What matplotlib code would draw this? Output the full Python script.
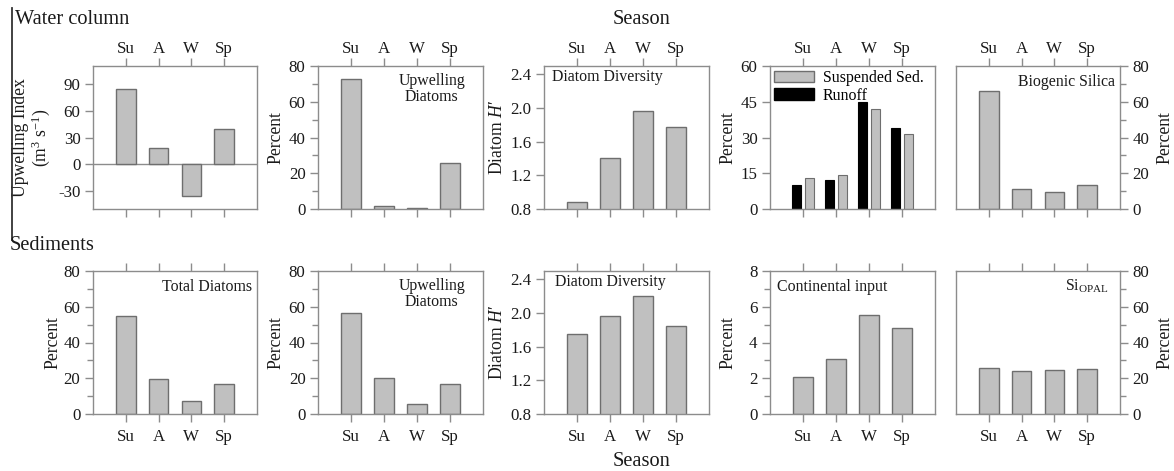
import numpy as np
import matplotlib
matplotlib.use("Agg")
import matplotlib.pyplot as plt
from matplotlib.lines import Line2D
from matplotlib.patches import Patch
from matplotlib.ticker import MultipleLocator

# Datos -------------------------------------------------------------------------------------------------------
seasons = ["Su", "A", "W", "Sp"]

# columna de agua
upwelling_index = [84, 18, -36, 40]
wc_upwelling_diatoms = [73, 1.5, 0.5, 25.5]
wc_diversity = [0.88, 1.41, 1.96, 1.78]
runoff = [10, 12, 45, 34]
suspended_sed = [13, 14.4, 42, 31.5]
biogenic_silica = [66, 11, 9.5, 13.4]

# sedimentos
total_diatoms = [55, 19.8, 7.4, 17]
sed_upwelling_diatoms = [56.3, 20.3, 5.8, 17]
sed_diversity = [1.75, 1.97, 2.20, 1.85]
continental_input = [2.05, 3.08, 5.52, 4.81]
si_opal = [25.9, 24.1, 24.8, 25]

# Estilo ------------------------------------------------------------------------------------------------------
plt.rcParams["font.family"] = ["Liberation Serif", "DejaVu Serif"]
plt.rcParams["mathtext.fontset"] = "custom"
plt.rcParams["mathtext.rm"] = "Liberation Serif"
plt.rcParams["mathtext.it"] = "Liberation Serif:italic"
plt.rcParams["axes.unicode_minus"] = False
FS_TICK = 12.2
FS_LAB = 12.7
FS_NOTE = 11.4
FS_TITLE = 14.7
BAR = "#c0c0c0"
EDGE = "#6e6e6e"
SPINE = "#8c8c8c"
TXT = "#1a1a1a"

W, H = 1174, 471
fig = plt.figure(figsize=(W / 100, H / 100), dpi=100)

lefts = [93, 318, 544, 770, 956]
widths = [164, 165, 165, 165, 164]
tops = [66, 271]
ph = 143
# borde del rotulo del eje y (fraccion del eje)
label_x = [-0.25, -0.206, -0.23, -0.206, 1.225]


def make_ax(row, col):
    l = lefts[col] / W
    b = 1 - (tops[row] + ph) / H
    ax = fig.add_axes([l, b, widths[col] / W, ph / H])
    for s in ax.spines.values():
        s.set_color(SPINE)
        s.set_linewidth(1.0)
    ax.set_xlim(-1, 4)
    ax.set_xticks(range(4))
    ax.set_xticklabels(seasons)
    ax.tick_params(axis="both", which="both", direction="out", color=SPINE,
                   labelsize=FS_TICK, labelcolor=TXT, pad=3)
    ax.tick_params(which="major", length=6, width=1)
    ax.tick_params(which="minor", length=4, width=1)
    ax.tick_params(axis="x", top=True, bottom=True,
                   labeltop=(row == 0), labelbottom=(row == 1),
                   pad=(0.5 if row == 0 else 5))
    if col == 4:
        ax.yaxis.tick_right()
        ax.yaxis.set_label_position("right")
    return ax


def ylab(ax, col, s, x=None):
    ax.set_ylabel(s, fontsize=FS_LAB, color=TXT, linespacing=1.0)
    ax.yaxis.set_label_coords(label_x[col] if x is None else x, 0.5)


def bars(ax, vals):
    ax.bar(range(4), vals, width=0.6, color=BAR, edgecolor=EDGE, linewidth=1.0, zorder=2)


def pct_axis(ax):
    ax.set_ylim(0, 80)
    ax.yaxis.set_major_locator(MultipleLocator(20))
    ax.yaxis.set_minor_locator(MultipleLocator(10))


def note(ax, x, y, s, ha="left", va="center"):
    ax.text(x, y, s, transform=ax.transAxes, ha=ha, va=va, fontsize=FS_NOTE,
            color=TXT, linespacing=1.05)


# Fila 1: columna de agua -------------------------------------------------------------------------------------
ax = make_ax(0, 0)
bars(ax, upwelling_index)
ax.axhline(0, color=SPINE, lw=1.0, zorder=1)
ax.set_ylim(-50, 110)
ax.set_yticks([-30, 0, 30, 60, 90])
ylab(ax, 0, "Upwelling Index\n(m$^3$ s$^{-1}$)")

ax = make_ax(0, 1)
bars(ax, wc_upwelling_diatoms)
pct_axis(ax)
ylab(ax, 1, "Percent")
note(ax, 0.69, 0.84, "Upwelling\nDiatoms", ha="center")

ax = make_ax(0, 2)
bars(ax, wc_diversity)
ax.set_ylim(0.8, 2.5)
ax.set_yticks([0.8, 1.2, 1.6, 2.0, 2.4])
ylab(ax, 2, "Diatom $\\mathit{H}$\u2032")
note(ax, 0.05, 0.92, "Diatom Diversity")

ax = make_ax(0, 3)
x = np.arange(4)
ax.bar(x - 0.2, runoff, width=0.26, color="black", edgecolor="black", linewidth=0.8, zorder=2)
ax.bar(x + 0.2, suspended_sed, width=0.26, color=BAR, edgecolor=EDGE, linewidth=0.8, zorder=2)
ax.set_ylim(0, 60)
ax.set_yticks([0, 15, 30, 45, 60])
ylab(ax, 3, "Percent")
handles = [Patch(facecolor=BAR, edgecolor=EDGE, label="Suspended Sed."),
           Patch(facecolor="black", edgecolor="black", label="Runoff")]
ax.legend(handles=handles, loc="upper left", frameon=False, fontsize=FS_NOTE,
          handlelength=2.5, handleheight=0.7, handletextpad=0.6, labelspacing=0.1,
          borderaxespad=0.1, borderpad=0.15)

ax = make_ax(0, 4)
bars(ax, biogenic_silica)
pct_axis(ax)
ylab(ax, 4, "Percent")
note(ax, 0.97, 0.89, "Biogenic Silica", ha="right")

# Fila 2: sedimentos ------------------------------------------------------------------------------------------
ax = make_ax(1, 0)
bars(ax, total_diatoms)
pct_axis(ax)
ylab(ax, 0, "Percent", x=-0.195)
note(ax, 0.97, 0.89, "Total Diatoms", ha="right")

ax = make_ax(1, 1)
bars(ax, sed_upwelling_diatoms)
pct_axis(ax)
ylab(ax, 1, "Percent")
note(ax, 0.69, 0.84, "Upwelling\nDiatoms", ha="center")

ax = make_ax(1, 2)
bars(ax, sed_diversity)
ax.set_ylim(0.8, 2.5)
ax.set_yticks([0.8, 1.2, 1.6, 2.0, 2.4])
ylab(ax, 2, "Diatom $\\mathit{H}$\u2032")
note(ax, 0.065, 0.925, "Diatom Diversity")

ax = make_ax(1, 3)
bars(ax, continental_input)
ax.set_ylim(0, 8)
ax.yaxis.set_major_locator(MultipleLocator(2))
ax.yaxis.set_minor_locator(MultipleLocator(1))
ylab(ax, 3, "Percent")
note(ax, 0.04, 0.89, "Continental input")

ax = make_ax(1, 4)
bars(ax, si_opal)
pct_axis(ax)
ylab(ax, 4, "Percent")
note(ax, 0.93, 0.89, "Si$_{\\mathrm{OPAL}}$", ha="right")

# Titulos y linea lateral -------------------------------------------------------------------------------------
fig.text(15 / W, 1 - 19 / H, "Water column", fontsize=FS_TITLE, color=TXT, ha="left", va="center")
fig.text(10 / W, 1 - 245 / H, "Sediments", fontsize=FS_TITLE, color=TXT, ha="left", va="center")
fig.text(642 / W, 1 - 20 / H, "Season", fontsize=FS_TITLE, color=TXT, ha="center", va="center")
fig.text(642 / W, 1 - 462 / H, "Season", fontsize=FS_TITLE, color=TXT, ha="center", va="center")
fig.add_artist(Line2D([12 / W, 12 / W], [1 - 8 / H, 1 - 240 / H], color="#333333", lw=1.3))

fig.savefig("out.png", dpi=100)
